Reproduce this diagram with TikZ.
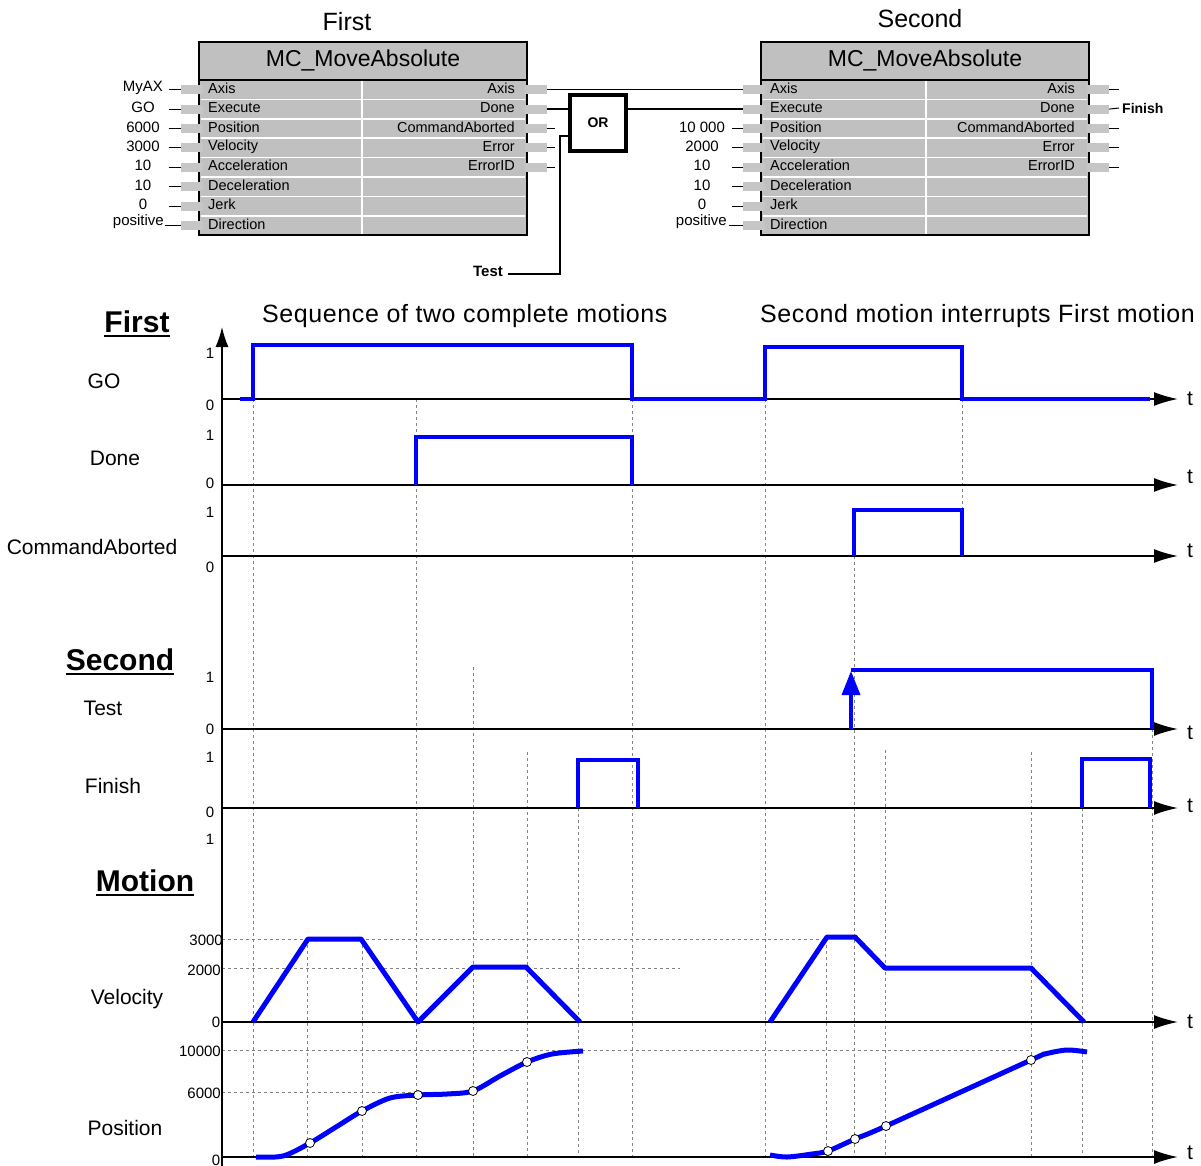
\documentclass[tikz,border=0pt]{standalone}
\usepackage{fontspec}
\setmainfont{Liberation Sans}
\newfontfamily\spacedfont[LetterSpace=2.4]{Liberation Sans}
\usetikzlibrary{arrows.meta}
\definecolor{sigblue}{RGB}{0,0,255}
\definecolor{fbgray}{RGB}{192,192,192}
\definecolor{pingray}{RGB}{198,198,198}
\definecolor{gridgray}{RGB}{130,130,130}
\tikzset{
  fbox/.style={draw=black, line width=1.5pt, fill=fbgray},
  fbpin/.style={fill=pingray, minimum width=22pt, minimum height=9pt, inner sep=0pt},
  pinl/.style={font=\fontsize{14.5}{15}\selectfont, inner sep=0pt},
  val/.style={font=\fontsize{15}{16}\selectfont, inner sep=0pt},
  ttl/.style={font=\fontsize{25}{26}\selectfont, inner sep=0pt},
  sig/.style={draw=sigblue, line width=3.5pt},
  prof/.style={draw=sigblue, line width=5pt, line join=round},
  taxis/.style={line width=1.8pt, -{Latex[length=24pt,width=14pt]}},
  guide/.style={draw=gridgray, line width=1pt, dash pattern=on 3pt off 3pt},
  sname/.style={font=\fontsize{21}{22}\selectfont, inner sep=0pt},
  num/.style={font=\fontsize{15}{16}\selectfont, inner sep=0pt},
  hdr/.style={font=\fontsize{30}{32}\selectfont\bfseries, inner sep=0pt},
  dotm/.style={circle, draw=black, fill=white, line width=0.8pt, minimum size=9pt, inner sep=0pt},
}
\begin{document}
\begin{tikzpicture}[x=1pt,y=-1pt]
\useasboundingbox (0,0) rectangle (1201,1166);

% function blocks
\node[ttl] (ttla) at (347,22) {First};
\node[ttl] (ttlb) at (920,19) {Second};
\draw[fbox] (199,42) rectangle (527,235);
\draw[fbox] (761,42) rectangle (1089,235);
\draw[line width=1.5pt] (199,80) -- (527,80);
\draw[line width=1.5pt] (761,80) -- (1089,80);
\node[font=\fontsize{23}{24}\selectfont] (hdra) at (363,60) {MC\_MoveAbsolute};
\node[font=\fontsize{23}{24}\selectfont] (hdrb) at (925,60) {MC\_MoveAbsolute};
\foreach \i in {1,...,7} {
  \draw[white, line width=1.5pt] (201,{80+19.4*\i}) -- (525,{80+19.4*\i});
  \draw[white, line width=1.5pt] (763,{80+19.4*\i}) -- (1087,{80+19.4*\i});
}
\draw[white, line width=1.5pt] (362,81) -- (362,234);
\draw[white, line width=1.5pt] (926,81) -- (926,234);

% inputs
\foreach \lbl [count=\i] in {Axis,Execute,Position,Velocity,Acceleration,Deceleration,Jerk,Direction} {
  \pgfmathsetmacro\yr{70.3+19.4*\i}
  \node[fbpin] (a\i) at (192,\yr) {};
  \node[fbpin] (b\i) at (754,\yr) {};
  \node[pinl, anchor=west] (al\i) at (208,\yr-1.5) {\lbl};
  \node[pinl, anchor=west] (bl\i) at (770,\yr-1.5) {\lbl};
}
% outputs
\foreach \lbl [count=\i] in {Axis,Done,CommandAborted,Error,ErrorID} {
  \pgfmathsetmacro\yr{70.3+19.4*\i}
  \node[fbpin] (ao\i) at (536,\yr) {};
  \node[fbpin] (bo\i) at (1098,\yr) {};
  \node[pinl, anchor=east] (aol\i) at (515,\yr-1.5) {\lbl};
  \node[pinl, anchor=east] (bol\i) at (1075,\yr-1.5) {\lbl};
}
\foreach \i in {3,4,5} \draw[line width=1pt] (ao\i.east) -- ++(8,0);
\foreach \i in {1,3,4,5} \draw[line width=1pt] (bo\i.east) -- ++(10,0);

% values
\foreach \v [count=\i] in {MyAX,GO,6000,3000,10,10,0} {
  \node[val] (va\i) at (143,{70.3+19.4*\i-1.5}) {\v};
  \draw[line width=1pt] ([xshift=-12pt]a\i.west) -- (a\i.west);
}
\node[val, anchor=east] (va8) at (164,222) {positive};
\draw[line width=1pt] ([xshift=-16pt]a8.west) -- (a8.west);
\foreach \v [count=\i from 3] in {10 000,2000,10,10,0} {
  \node[val] (vb\i) at (702,{70.3+19.4*\i-1.5}) {\v};
  \draw[line width=1pt] ([xshift=-11pt]b\i.west) -- (b\i.west);
}
\node[val, anchor=east] (vb8) at (727,222) {positive};
\draw[line width=1pt] ([xshift=-14pt]b8.west) -- (b8.west);

% OR and links
\node[draw, line width=4pt, minimum width=56pt, minimum height=56pt,
      font=\fontsize{14}{15}\selectfont\bfseries] (orgate) at (598,123) {OR};
\draw[line width=1.2pt] (ao1.east) -- (b1.west);
\draw[line width=1.2pt] (ao2.east) -- (ao2.east -| orgate.west);
\draw[line width=1.2pt] (orgate.east |- b2.west) -- (b2.west);
\coordinate (orin) at (orgate.west |- 0,136);
\node[font=\fontsize{15}{16}\selectfont\bfseries, inner sep=0pt] (testin) at (488,271) {Test};
\draw[line width=1.2pt] ([xshift=5pt,yshift=-3pt]testin.east) -| ([xshift=-8pt]orin) -- (orin);
\node[font=\fontsize{14}{15}\selectfont\bfseries, inner sep=3pt, anchor=west] (finout) at (1119,108) {Finish};
\draw[line width=1pt] (bo2.east) -- (finout.west);

% timing diagram
\node[ttl, font=\fontsize{25}{26}\spacedfont, anchor=west] (seqa) at (262,316) {Sequence of two complete motions};
\node[ttl, font=\fontsize{25}{26}\spacedfont, anchor=west] (seqb) at (760,316) {Second motion interrupts First motion};
\node[hdr] (hfirst) at (137,322) {First};
\node[hdr] (hsecond) at (120,660) {Second};
\node[hdr] (hmotion) at (145,881) {Motion};
\foreach \h in {hfirst,hsecond,hmotion}
  \draw[line width=2pt] ([yshift=-3pt]\h.south west) -- ([yshift=-3pt]\h.south east);
\node[sname] (lgo) at (104,381) {GO};
\node[sname] (ldone) at (115,458) {Done};
\node[sname] (lca) at (92,547) {CommandAborted};
\node[sname] (ltest) at (103,708) {Test};
\node[sname] (lfin) at (113,786) {Finish};
\node[sname] (lvel) at (127,999) {Velocity};
\node[sname] (lpos) at (125,1128) {Position};

% guide lines
\foreach \x/\a/\b in {253/399/1157, 307/939/1157, 362/939/1157, 416/399/1157,
    473/667/1157, 527/752/1157, 578/808/1157, 632/399/1157, 765/399/1157,
    826/939/1157, 854/556/1157, 885/750/1157, 962/399/556, 1031/752/1157,
    1082/808/1157, 1152/729/1157}
  \draw[guide] (\x,\a) -- (\x,\b);
\draw[guide] (222,939) -- (825,939);
\draw[guide] (222,968) -- (680,968);
\draw[guide] (222,1050) -- (1030,1050);
\draw[guide] (222,1092) -- (470,1092);

% axes
\draw[line width=1.5pt, -{Latex[length=20pt,width=13pt]}] (222,1166) -- (222,327);
\foreach \y/\ty in {399/399, 485/477, 556/551, 729/733, 808/806, 1022/1022, 1157/1153} {
  \draw[taxis] (222,\y) -- (1178,\y);
  \node[sname] (t\y) at (1190,\ty) {t};
}
\foreach \y/\t in {353/1, 405/0, 435/1, 483/0, 512/1, 567/0, 677/1, 729/0, 757/1, 812/0, 839/1}
  \node[num] (n\y) at (210,\y) {\t};
\node[num, anchor=east] (v3000) at (223,940) {3000};
\node[num, anchor=east] (v2000) at (221,970) {2000};
\node[num] (v0) at (216,1022) {0};
\node[num, anchor=east] (p10000) at (221,1051) {10000};
\node[num, anchor=east] (p6000) at (221,1093) {6000};
\node[num] (p0) at (216,1160) {0};

% signals
\draw[sig] (240,399) -- (253,399) -- (253,345) -- (632,345) -- (632,399) -- (765,399)
  -- (765,347) -- (962,347) -- (962,399) -- (1150,399);
\draw[sig] (416,485) -- (416,437) -- (632,437) -- (632,485);
\draw[sig] (854,556) -- (854,510) -- (962,510) -- (962,556);
\draw[sig, -{Triangle[length=24pt,width=18pt]}] (851,729) -- (851,671);
\draw[sig] (851,670) -- (1152,670) -- (1152,729);
\draw[sig] (578,808) -- (578,760) -- (638,760) -- (638,808);
\draw[sig] (1082,808) -- (1082,759) -- (1150,759) -- (1150,808);

% motion profiles
\draw[prof] (253,1022) -- (308,939) -- (361,939) -- (418,1022) -- (473,967) -- (526,967) -- (580,1022);
\draw[prof] (770,1022) -- (827,937) -- (855,937) -- (885,968) -- (1031,968) -- (1084,1022);
\draw[prof] plot[smooth, tension=0.5] coordinates {(256,1157) (283,1156) (310,1143) (336,1127)
  (362,1111) (390,1098) (418,1095) (447,1094) (473,1091) (500,1076) (527,1062) (552,1054) (583,1051)};
\draw[prof] plot[smooth, tension=0.5] coordinates {(770,1155) (787,1157) (812,1154) (828,1151)
  (855,1139) (886,1126) (1031,1060) (1045,1054) (1067,1050) (1087,1052)};
\foreach \x/\y [count=\k] in {310/1143, 362/1111, 418/1095, 473/1091, 527/1062,
    828/1151, 855/1139, 886/1126, 1031/1060}
  \node[dotm] (m\k) at (\x,\y) {};
\end{tikzpicture}
\end{document}
